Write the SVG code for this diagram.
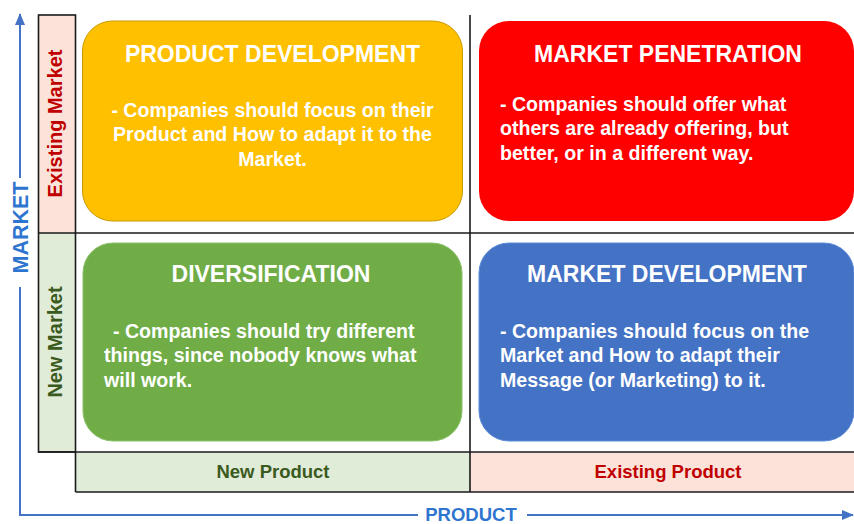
<svg xmlns="http://www.w3.org/2000/svg" width="854" height="524" viewBox="0 0 854 524">
  <defs>
    <marker id="axisHead" viewBox="0 0 12 10" refX="11" refY="5" markerWidth="12" markerHeight="10" markerUnits="userSpaceOnUse" orient="auto">
      <path d="M0,0 L12,5 L0,10 Z" fill="#4472C4"/>
    </marker>
  </defs>
  <style>
    text { font-family: "Liberation Sans", Arial, sans-serif; font-weight: bold; }
    .title { font-size: 23px; fill: #FFFFFF; text-anchor: middle; }
    .body { font-size: 19.6px; fill: #FFFFFF; }
    .mid { text-anchor: middle; }
    .grid { stroke: #1A1A1A; stroke-width: 1.6; fill: none; }
    .axis { stroke: #4472C4; stroke-width: 2; fill: none; }
    .axisLabel { fill: #2E75CF; text-anchor: middle; }
    .side { font-size: 20px; text-anchor: middle; }
    .foot { font-size: 18.5px; text-anchor: middle; }
    .pink { fill: #FBE3DA; }
    .mint { fill: #E0EBD8; }
  </style>

  <rect width="854" height="524" fill="#FFFFFF"/>

  <!-- row / column headers -->
  <g id="header-existing-market">
    <rect class="pink" x="38.5" y="15" width="37" height="218"/>
    <text class="side" fill="#C00000" transform="translate(62,123.5) rotate(-90)">Existing Market</text>
  </g>
  <g id="header-new-market">
    <rect class="mint" x="38.5" y="233" width="37" height="219"/>
    <text class="side" fill="#3A5A1E" transform="translate(62,342) rotate(-90)">New Market</text>
  </g>
  <g id="header-new-product">
    <rect class="mint" x="75.5" y="452" width="394.5" height="40"/>
    <text class="foot" fill="#3A5A1E" x="273" y="478">New Product</text>
  </g>
  <g id="header-existing-product">
    <rect class="pink" x="470" y="452" width="384" height="40"/>
    <text class="foot" fill="#C00000" x="668" y="478">Existing Product</text>
  </g>

  <!-- grid lines -->
  <g id="grid">
    <rect class="grid" x="38.5" y="15" width="37" height="437"/>
    <line class="grid" x1="38" y1="233" x2="854" y2="233"/>
    <line class="grid" x1="38" y1="452" x2="854" y2="452"/>
    <line class="grid" x1="75.5" y1="492" x2="854" y2="492"/>
    <line class="grid" x1="75.5" y1="452" x2="75.5" y2="492"/>
    <line class="grid" x1="470" y1="15" x2="470" y2="492"/>
  </g>

  <!-- quadrants -->
  <g id="product-development">
    <rect x="82.5" y="21" width="380" height="200" rx="30" fill="#FFC000" stroke="#C99A00" stroke-width="1"/>
    <text class="title" x="272.5" y="61.5">PRODUCT DEVELOPMENT</text>
    <text class="body mid" x="272.5" y="116.5">- Companies should focus on their</text>
    <text class="body mid" x="272.5" y="141">Product and How to adapt it to the</text>
    <text class="body mid" x="272.5" y="165.5">Market.</text>
  </g>
  <g id="market-penetration">
    <rect x="479" y="21" width="375" height="200" rx="30" fill="#FF0000"/>
    <text class="title" x="668" y="61.5">MARKET PENETRATION</text>
    <text class="body" x="500" y="110.5">- Companies should offer what</text>
    <text class="body" x="500" y="135">others are already offering, but</text>
    <text class="body" x="500" y="159.5">better, or in a different way.</text>
  </g>
  <g id="diversification">
    <rect x="83" y="243" width="379" height="198" rx="30" fill="#70AD47" stroke="#8CC16A" stroke-width="1"/>
    <text class="title" x="271" y="282">DIVERSIFICATION</text>
    <text class="body" x="113" y="337.5">- Companies should try different</text>
    <text class="body" x="104" y="362">things, since nobody knows what</text>
    <text class="body" x="104" y="386.5">will work.</text>
  </g>
  <g id="market-development">
    <rect x="479" y="243" width="375" height="198" rx="30" fill="#4472C4" stroke="#5A8BD8" stroke-width="1"/>
    <text class="title" x="667" y="282">MARKET DEVELOPMENT</text>
    <text class="body" x="500" y="337.5">- Companies should focus on the</text>
    <text class="body" x="500" y="362">Market and How to adapt their</text>
    <text class="body" x="500" y="386.5">Message (or Marketing) to it.</text>
  </g>

  <!-- axes -->
  <g id="connectors">
    <path class="axis" d="M20,178 L20,14" marker-end="url(#axisHead)"/>
    <path class="axis" d="M20,287 L20,515 L418,515"/>
    <path class="axis" d="M527,515 L853,515" marker-end="url(#axisHead)"/>
  </g>
  <g id="axis-labels">
    <text class="axisLabel" font-size="21.5" transform="translate(28,227.5) rotate(-90)">MARKET</text>
    <text class="axisLabel" font-size="18.5" x="471" y="521">PRODUCT</text>
  </g>
</svg>
